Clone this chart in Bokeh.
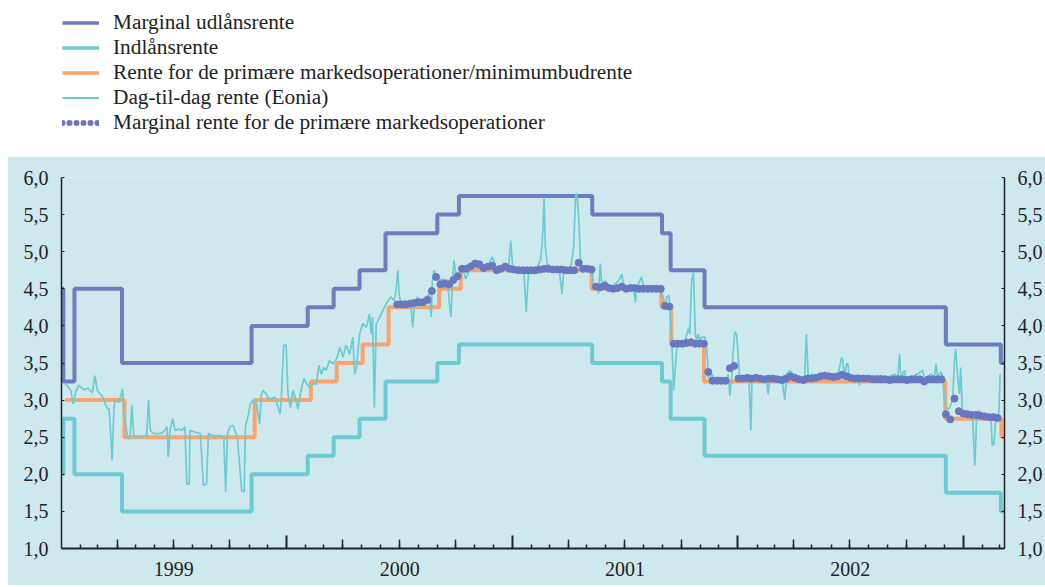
import pandas as pd
from bokeh.plotting import figure
from bokeh.models import (FixedTicker, LinearAxis, CustomJSTickFormatter, Range1d,
                          Legend, LegendItem, ColumnDataSource)
from bokeh.layouts import column
from bokeh.embed import file_html
from bokeh.resources import INLINE

# ---------------- data ----------------
x_start = "1999-01-01"
x_end = "2003-03-09"
year_labels = ["1999", "2000", "2001", "2002"]
y_ticks = [1.0, 1.5, 2.0, 2.5, 3.0, 3.5, 4.0, 4.5, 5.0, 5.5, 6.0]

# Marginal lending rate (Marginal udlånsrente)
marginal_dates = ["1999-01-01", "1999-01-04", "1999-01-22", "1999-04-09", "1999-11-05",
                  "2000-02-04", "2000-03-17", "2000-04-28", "2000-06-09", "2000-09-01",
                  "2000-10-06", "2001-05-10", "2001-08-31", "2001-09-14", "2001-11-08",
                  "2002-12-04", "2003-03-03", "2003-03-09"]
marginal_rates = [4.50, 3.25, 4.50, 3.50, 4.00, 4.25, 4.50, 4.75, 5.25, 5.50,
                  5.75, 5.50, 5.25, 4.75, 4.25, 3.75, 3.50, 3.50]

# Deposit rate (Indlånsrente)
deposit_dates = marginal_dates
deposit_rates = [2.00, 2.75, 2.00, 1.50, 2.00, 2.25, 2.50, 2.75, 3.25, 3.50,
                 3.75, 3.50, 3.25, 2.75, 2.25, 1.75, 1.50, 1.50]

# Main refinancing rate / minimum bid rate
mro_dates = ["1999-01-07", "1999-04-13", "1999-11-10", "2000-02-09", "2000-03-22",
             "2000-05-03", "2000-06-14", "2000-09-04", "2000-10-09", "2001-05-09",
             "2001-08-30", "2001-09-15", "2001-11-07", "2002-12-03", "2003-03-04",
             "2003-03-09"]
mro_rates = [3.00, 2.50, 3.00, 3.25, 3.50, 3.75, 4.25, 4.50, 4.75, 4.50,
             4.25, 3.75, 3.25, 2.75, 2.50, 2.50]

# Eonia: day number since 1999-01-01 and rate
eonia_day = [5, 9, 15, 19, 23, 28, 36, 43, 50, 54, 58, 63, 68, 73, 77, 79, 82, 85, 87, 93,
             96, 99, 101, 104, 107, 111, 114, 117, 122, 128, 138, 141, 144, 149, 160, 165,
             171, 173, 176, 180, 184, 190, 195, 200, 203, 207, 208, 216, 225, 230, 235, 238,
             246, 257, 263, 266, 269, 273, 278, 281, 285, 288, 292, 296, 298, 303, 306, 311,
             316, 321, 324, 327, 332, 335, 340, 346, 354, 356, 360, 364, 367, 371, 375, 380,
             383, 389, 393, 397, 402, 408, 413, 417, 421, 425, 429, 434, 440, 446,
             451, 456, 461, 467, 472, 475, 478, 483, 488, 494, 499, 502, 504, 507, 510, 513,
             518, 523, 529, 534, 539, 542, 545, 547, 550, 556, 561, 566, 569, 572, 577, 580,
             585, 591, 596, 599, 601, 604, 607, 612, 617, 626, 628, 631, 634, 636, 639, 644,
             650, 655, 661, 666, 671, 679, 685, 690, 698, 704, 709, 714, 720, 725, 728, 731,
             741, 749, 753, 757, 768, 776, 779, 782, 784, 787, 792, 800, 806, 811, 814, 819,
             825, 830, 833, 835, 838, 841, 844, 846, 852, 857, 860, 862, 868, 870, 873, 876,
             881, 887, 892, 897, 903, 908, 911, 916, 922, 927, 930, 932, 940, 943, 951, 957,
             962, 967, 973, 975, 978, 981, 984, 986, 989, 992, 994, 997,
             1000, 1005, 1010, 1016, 1018, 1021, 1024, 1027, 1029, 1032, 1035, 1037, 1043,
             1045, 1047, 1048, 1051, 1053, 1059, 1064, 1070, 1078, 1080, 1083, 1086, 1088,
             1091, 1094, 1097, 1099, 1105, 1110, 1114, 1117, 1119, 1124, 1129, 1137, 1142,
             1145, 1148, 1156, 1167, 1172, 1175, 1180, 1185, 1191, 1199, 1204, 1207, 1210,
             1215, 1226, 1237, 1247, 1258, 1264, 1266, 1269, 1272, 1274, 1277, 1285, 1290,
             1293, 1296, 1307, 1317, 1328, 1339, 1350, 1355, 1358, 1360, 1366, 1368, 1377,
             1387, 1395, 1398, 1403, 1409, 1414, 1417, 1420, 1425, 1428, 1430, 1433, 1438,
             1444, 1447, 1449, 1452, 1455, 1457, 1460, 1465, 1471, 1476, 1480, 1483, 1487,
             1492, 1500, 1506, 1508, 1511, 1514, 1517, 1519, 1521]
eonia_rate = [3.21, 3.20, 3.13, 2.95, 3.11, 3.20, 3.14, 3.16, 3.10, 3.33, 3.13, 3.08, 3.03,
              2.90, 2.88, 2.64, 2.19, 2.90, 2.99, 2.97, 3.06, 3.15, 2.81, 2.68, 2.50, 2.48,
              2.93, 2.52, 2.51, 2.50, 2.52, 3.00, 2.59, 2.55, 2.55, 2.57, 2.64, 2.23, 2.59,
              2.75, 2.59, 2.61, 2.59, 2.64, 1.87, 1.87, 2.59, 2.57, 2.55, 1.85, 1.87, 2.55,
              2.52, 2.52, 2.50, 1.76, 2.55, 2.64, 2.66, 2.59, 2.50, 2.19, 1.78, 1.76, 2.64,
              2.81, 2.95, 3.00, 2.95, 2.68, 3.08, 3.13, 3.08, 3.02, 3.02, 3.04, 2.81, 2.99,
              3.74, 3.74, 3.08, 2.90, 3.13, 2.99, 2.88, 3.17, 3.29, 3.22, 3.17, 3.22, 3.22,
              3.47, 3.35, 3.44, 3.40, 3.53, 3.49, 3.56,
              3.71, 3.58, 3.74, 3.62, 3.85, 3.35, 3.44, 3.89, 4.03, 3.98, 4.16, 3.89, 4.12,
              2.90, 4.03, 4.07, 4.16, 4.25, 4.34, 4.39, 4.34, 4.48, 4.75, 4.43, 4.30, 4.34,
              4.30, 4.30, 3.98, 4.30, 4.39, 4.25, 4.34, 4.39, 4.43, 4.12, 4.61, 4.75, 4.66,
              4.61, 4.63, 4.61, 4.34, 4.12, 4.66, 4.88, 4.70, 4.70, 4.79, 4.63, 4.75, 4.84,
              4.79, 4.77, 4.81, 4.79, 4.93, 4.79, 4.81, 4.77, 4.77, 4.84, 5.15, 4.79, 4.75,
              4.75, 4.19, 4.75, 4.75, 4.88, 5.11, 5.73, 5.06, 4.84, 4.75, 4.77, 4.79, 4.43,
              4.79, 4.79, 4.77, 5.06, 5.76, 5.78, 5.47, 4.88, 4.79, 4.75, 4.79, 4.77, 4.75,
              4.52, 4.57, 4.43, 4.84, 4.52, 4.61, 4.54, 4.52, 4.57, 4.61, 4.70, 4.52, 4.52,
              4.54, 4.52, 4.32, 4.52, 4.66, 4.52, 4.50, 4.50, 4.48, 4.48, 4.43, 4.39, 4.25,
              4.39, 4.41, 4.25, 3.76, 3.13, 3.35, 3.71,
              3.80, 3.78, 3.78, 3.98, 3.89, 4.61, 4.72, 3.89, 3.80, 3.89, 3.78, 3.85, 3.85,
              3.71, 3.53, 3.31, 3.26, 3.35, 3.29, 3.31, 3.26, 3.26, 3.35, 3.06, 3.31, 3.62,
              3.92, 3.89, 3.53, 3.31, 3.29, 3.31, 3.29, 2.59, 3.31, 3.33, 3.31, 3.29, 3.31,
              3.08, 3.29, 3.31, 3.29, 3.00, 3.35, 3.40, 3.35, 3.33, 3.26, 3.31, 3.89, 3.31,
              3.35, 3.31, 3.35, 3.35, 3.33, 3.58, 3.53, 3.31, 3.49, 3.49, 3.31, 3.31, 3.35,
              3.20, 3.31, 3.31, 3.33, 3.33, 3.31, 3.35, 3.31, 3.62, 3.31, 3.40, 3.31, 3.31,
              3.35, 3.40, 3.31, 3.31, 3.35, 3.29, 3.49, 3.31, 3.38, 3.31, 3.08, 2.90, 2.88,
              3.00, 3.53, 3.69, 3.31, 3.08, 3.44, 2.81, 2.81, 2.77, 2.81, 2.12, 2.81, 2.86,
              2.77, 2.73, 2.81, 2.39, 2.41, 2.77, 2.77, 2.85, 3.35]

# Marginal rate in the main refinancing operations (weekly tenders from 28 June 2000)
mmro_first_tender = "2000-06-28"
mmro_rate = [4.29, 4.29, 4.29, 4.30, 4.31, 4.32, 4.32, 4.35, 4.47, 4.66, 4.56, 4.57, 4.56,
             4.62, 4.67, 4.77, 4.77, 4.80, 4.84, 4.83, 4.78, 4.80, 4.81, 4.75, 4.77, 4.80,
             4.77, 4.76, 4.75, 4.75, 4.75, 4.75, 4.75, 4.76, 4.77, 4.77, 4.76, 4.76, 4.76,
             4.75, 4.75, 4.75, 4.85, 4.77, 4.77, 4.76, 4.53, 4.52, 4.54, 4.51, 4.50, 4.51,
             4.53, 4.50, 4.51, 4.51, 4.50, 4.50, 4.50, 4.50, 4.50, 4.50, 4.27, 4.26, 3.76,
             3.76, 3.76, 3.77, 3.78, 3.76, 3.76, 3.76, 3.38, 3.26, 3.26, 3.26, 3.26, 3.43,
             3.46, 3.29, 3.29, 3.30, 3.29, 3.30, 3.29, 3.28, 3.29, 3.29, 3.28, 3.27, 3.29,
             3.32, 3.30, 3.28, 3.27, 3.29, 3.29, 3.30, 3.32, 3.33, 3.32, 3.31, 3.32, 3.34,
             3.32, 3.30, 3.29, 3.29, 3.29, 3.29, 3.28, 3.28, 3.28, 3.28, 3.27, 3.28, 3.28,
             3.28, 3.27, 3.28, 3.28, 3.28, 3.25, 3.28, 3.28, 3.28, 3.28, 2.81, 2.74, 3.02,
             2.85, 2.82, 2.81, 2.80, 2.80, 2.79, 2.78, 2.77, 2.77, 2.76]

labels = ["Marginal udlånsrente",
          "Indlånsrente",
          "Rente for de primære markedsoperationer/minimumbudrente",
          "Dag-til-dag rente (Eonia)",
          "Marginal rente for de primære markedsoperationer"]

# ---------------- styling ----------------
BG = "#CDE9EE"
C_MARG = "#6A7DBF"
C_DEP = "#6CCAD2"
C_MRO = "#F8A46C"
C_EON = "#6CCAD2"
C_DOT = "#6878C0"
AX = "#222222"
FONT = "Liberation Serif"
BORDER_L = 54


def ms(d):
    return pd.Timestamp(d).value / 1e6


start = pd.Timestamp(x_start)
eonia_dates = start + pd.to_timedelta(eonia_day, unit="D")
mmro_dates = pd.date_range(mmro_first_tender, periods=len(mmro_rate), freq="7D")

src_m = ColumnDataSource(dict(x=pd.to_datetime(marginal_dates), y=marginal_rates))
src_d = ColumnDataSource(dict(x=pd.to_datetime(deposit_dates), y=deposit_rates))
src_r = ColumnDataSource(dict(x=pd.to_datetime(mro_dates), y=mro_rates))
src_e = ColumnDataSource(dict(x=eonia_dates, y=eonia_rate))
src_k = ColumnDataSource(dict(x=mmro_dates, y=mmro_rate))

p = figure(width=1038, height=429, output_backend="svg", toolbar_location=None,
           x_range=Range1d(ms(x_start), ms(x_end)), y_range=Range1d(1.0, 6.0),
           x_axis_type=None, y_axis_type=None,
           min_border_left=BORDER_L, min_border_right=38, min_border_top=21, min_border_bottom=37)
p.background_fill_color = BG
p.border_fill_color = BG
p.outline_line_color = None
p.xgrid.visible = False
p.ygrid.visible = False

p.step("x", "y", source=src_m, mode="after", line_color=C_MARG, line_width=4)
p.step("x", "y", source=src_d, mode="after", line_color=C_DEP, line_width=4)
p.step("x", "y", source=src_r, mode="after", line_color=C_MRO, line_width=4)
p.line("x", "y", source=src_e, line_color=C_EON, line_width=1.7)
p.scatter("x", "y", source=src_k, size=7, fill_color=C_DOT, line_color=C_DOT)

# y axes (left + right)
yfmt = CustomJSTickFormatter(code="return tick.toFixed(1).replace('.', ',');")
for side in ("left", "right"):
    ax = LinearAxis(ticker=FixedTicker(ticks=y_ticks), formatter=yfmt)
    ax.major_tick_in = 3
    ax.major_tick_out = 0
    ax.major_tick_line_color = AX
    ax.minor_tick_in = 0
    ax.minor_tick_out = 0
    ax.axis_line_color = AX
    ax.axis_line_width = 1.5
    ax.major_label_standoff = 13
    ax.major_label_text_font = FONT
    ax.major_label_text_font_size = "20px"
    ax.major_label_text_color = AX
    p.add_layout(ax, side)

# x axis: tall ticks at year boundaries, short ticks at month starts (no labels)
year_bounds = [ms(f"{y}-01-01") for y in ["2000", "2001", "2002", "2003"]]
months = pd.date_range("1999-02-01", "2003-03-01", freq="MS")
quarters = [ms(m) for m in months if m.month in (4, 7, 10)]
month_ticks = [ms(m) for m in months if m.month != 1]
blank = CustomJSTickFormatter(code="return '';")

xa = LinearAxis(ticker=FixedTicker(ticks=year_bounds, minor_ticks=month_ticks), formatter=blank)
xa.major_tick_in = 13
xa.major_tick_out = 0
xa.major_tick_line_width = 2
xa.major_tick_line_color = AX
xa.minor_tick_in = 4
xa.minor_tick_out = 0
xa.minor_tick_line_width = 1.5
xa.minor_tick_line_color = AX
xa.axis_line_color = AX
xa.axis_line_width = 2
xa.major_label_standoff = 0
xa.major_label_text_font_size = "1px"
p.add_layout(xa, "below")

# year labels centred in each year (stacked below)
mid_years = [ms(f"{y}-07-02") for y in year_labels]
la = LinearAxis(ticker=FixedTicker(ticks=mid_years),
                formatter=CustomJSTickFormatter(code="return String(new Date(tick).getUTCFullYear());"))
la.major_tick_in = 0
la.major_tick_out = 0
la.minor_tick_in = 0
la.minor_tick_out = 0
la.axis_line_color = None
la.major_label_standoff = 13
la.major_label_text_font = FONT
la.major_label_text_font_size = "20px"
la.major_label_text_color = AX
p.add_layout(la, "below")

# medium ticks at quarter starts, drawn on the bottom edge of the frame
qa = LinearAxis(fixed_location=1.0, ticker=FixedTicker(ticks=quarters), formatter=blank)
qa.major_tick_in = 9
qa.major_tick_out = 0
qa.major_tick_line_width = 1.5
qa.major_tick_line_color = AX
qa.minor_tick_in = 0
qa.minor_tick_out = 0
qa.axis_line_color = None
qa.major_label_text_color = None
p.add_layout(qa, "below")

# ---------------- legend figure ----------------
lg = figure(width=1038, height=156, output_backend="svg", toolbar_location=None,
            x_range=Range1d(0, 1), y_range=Range1d(0, 1), x_axis_type=None, y_axis_type=None,
            min_border_left=BORDER_L, min_border_right=38, min_border_top=0, min_border_bottom=0)
lg.background_fill_color = "white"
lg.border_fill_color = "white"
lg.outline_line_color = None
lg.xgrid.visible = False
lg.ygrid.visible = False
# legend renderers share the chart's sources; their data lie outside this panel's range
r1 = lg.step("x", "y", source=src_m, line_color=C_MARG, line_width=3.5)
r2 = lg.step("x", "y", source=src_d, line_color=C_DEP, line_width=3.5)
r3 = lg.step("x", "y", source=src_r, line_color=C_MRO, line_width=3.5)
r4 = lg.line("x", "y", source=src_e, line_color=C_EON, line_width=2)
r5 = lg.line("x", "y", source=src_k, line_color=C_DOT, line_width=6, line_dash="0 7",
             line_cap="round")
legend = Legend(items=[LegendItem(label=t, renderers=[r]) for t, r in zip(labels, [r1, r2, r3, r4, r5])],
                location=(1, 21), padding=0, margin=0, spacing=0, label_height=23,
                glyph_height=23, glyph_width=37, label_standoff=14,
                label_text_font=FONT, label_text_font_size="21.3px", label_text_color=AX,
                border_line_color=None, background_fill_alpha=0)
lg.add_layout(legend)

layout = column(lg, p, spacing=0)
layout.margin = (0, 0, 0, 7)
open("out.html", "w").write(file_html(layout, INLINE))
